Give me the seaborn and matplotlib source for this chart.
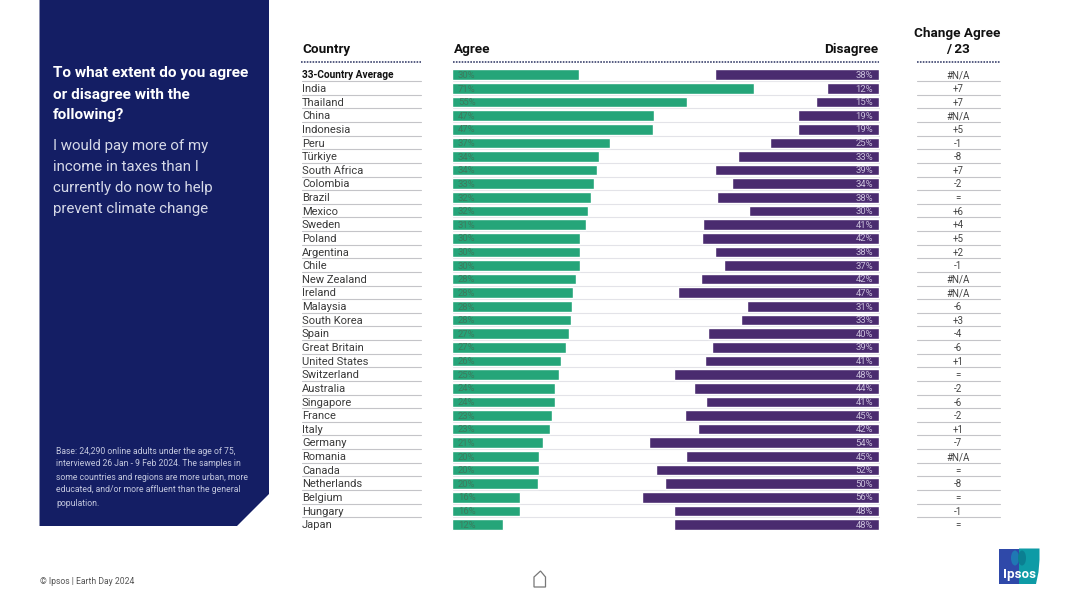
import matplotlib
matplotlib.use("Agg")
import matplotlib.pyplot as plt
import seaborn as sns
import pandas as pd
from matplotlib.patches import Polygon, Ellipse

countries = ["33-Country Average", "India", "Thailand", "China", "Indonesia", "Peru", "Türkiye",
             "South Africa", "Colombia", "Brazil", "Mexico", "Sweden", "Poland", "Argentina", "Chile",
             "New Zealand", "Ireland", "Malaysia", "South Korea", "Spain", "Great Britain",
             "United States", "Switzerland", "Australia", "Singapore", "France", "Italy", "Germany",
             "Romania", "Canada", "Netherlands", "Belgium", "Hungary", "Japan"]
agree_bar = [29.7, 70.8, 55.0, 47.3, 47.1, 37.0, 34.4, 33.9, 33.1, 32.5, 31.8, 31.4, 30.0, 29.9, 29.9,
             29.0, 28.3, 28.0, 27.8, 27.4, 26.6, 25.4, 25.0, 24.0, 24.0, 23.4, 22.9, 21.3, 20.4, 20.3,
             20.0, 15.8, 15.8, 11.9]
disagree_bar = [38.6, 12.3, 14.7, 19.1, 18.9, 25.5, 33.2, 38.6, 34.4, 38.1, 30.4, 41.4, 41.6, 38.4, 36.5,
                41.9, 47.1, 31.1, 32.5, 40.2, 39.3, 40.9, 48.2, 43.5, 40.7, 45.6, 42.6, 54.1, 45.4, 52.4,
                50.3, 55.7, 48.2, 48.2]
agree_labels = [30, 71, 55, 47, 47, 37, 34, 34, 33, 32, 32, 31, 30, 30, 30, 28, 28, 28, 28, 27, 27, 26,
                25, 24, 24, 23, 23, 21, 20, 20, 20, 16, 16, 12]
disagree_labels = [38, 12, 15, 19, 19, 25, 33, 39, 34, 38, 30, 41, 42, 38, 37, 42, 47, 31, 33, 40, 39, 41,
                   48, 44, 41, 45, 42, 54, 45, 52, 50, 56, 48, 48]
change = ["#N/A", "+7", "+7", "#N/A", "+5", "-1", "-8", "+7", "-2", "=", "+6", "+4", "+5", "+2", "-1",
          "#N/A", "#N/A", "-6", "+3", "-4", "-6", "+1", "=", "-2", "-6", "-2", "+1", "-7", "#N/A", "=",
          "-8", "=", "-1", "="]

sns.set_theme(style="white")
plt.rcParams["font.family"] = ["Roboto", "DejaVu Sans"]

W, H = 1080, 607
fig = plt.figure(figsize=(W / 100, H / 100), dpi=100, facecolor="white")

# full-page layer in pixel units
page = fig.add_axes([0, 0, 1, 1], zorder=0)
page.set_xlim(0, W); page.set_ylim(H, 0); page.axis("off")

NAVY = "#141E64"
page.add_patch(Polygon([(39.5, 0), (269, 0), (269, 494), (237, 526), (39.5, 526)], closed=True,
                       facecolor=NAVY, edgecolor="none"))
for y, s in zip([73.5, 94.5, 115.5], ["To what extent do you agree", "or disagree with the", "following?"]):
    page.text(53, y, s, color="white", fontsize=11.1, fontweight="bold", va="center")
for y, s in zip([146, 167, 188, 209.5], ["I would pay more of my", "income in taxes than I",
                                         "currently do now to help", "prevent climate change"]):
    page.text(53, y, s, color="#D6D9E8", fontsize=10.8, va="center")
base = ["Base: 24,290 online adults under the age of 75,",
        "interviewed 26 Jan - 9 Feb 2024. The samples in",
        "some countries and regions are more urban, more",
        "educated, and/or more affluent than the general",
        "population."]
for y, s in zip([451, 464, 477, 490, 503], base):
    page.text(56.5, y, s, color="#C3C7DE", fontsize=6.25, va="center")
page.text(39.5, 581, "© Ipsos | Earth Day 2024", color="#555555", fontsize=6.2, va="center")

# column headers
HEAD = dict(color="#111111", fontsize=9.7, fontweight="bold", va="center")
page.text(302, 50, "Country", **HEAD)
page.text(454, 50, "Agree", **HEAD)
page.text(878, 50, "Disagree", ha="right", **HEAD)
page.text(957.5, 34, "Change Agree", ha="center", **HEAD)
page.text(957.5, 50, "/ 23", ha="center", **HEAD)
for x0, x1 in [(301, 421), (452.5, 879), (917, 1000)]:
    page.plot([x0, x1], [61.8, 61.8], color="#4A5178", lw=1.3, ls=(0, (0.9, 0.7)))

# home icon
page.add_patch(Polygon([(534, 587), (534, 577), (540.5, 571), (545.5, 577), (545.5, 587)], closed=True,
                       facecolor="white", edgecolor="#777777", lw=0.9))

# logo
page.add_patch(Polygon([(999, 548.5), (1020, 548.5), (1020, 584), (999, 584)], closed=True,
                       facecolor="#2F49A9", edgecolor="none"))
page.add_patch(Polygon([(1019, 548.5), (1039.5, 548.5), (1039.5, 560), (1038.5, 572), (1036, 584), (1019, 584)],
                       closed=True, facecolor="#0E9BA6", edgecolor="none"))
page.add_patch(Ellipse((1015, 558), 8, 15, facecolor="#1F78B4", edgecolor="none"))
page.add_patch(Ellipse((1022, 558), 8, 15, facecolor="#0B7F92", edgecolor="none"))
page.text(1019, 574.5, "Ipsos", color="white", fontsize=9.6, fontweight="bold", ha="center", va="center")

# bar panels
top, bottom = 67.9, 531.3
left, right = 452.5, 879.0
rect = [left / W, 1 - bottom / H, (right - left) / W, (bottom - top) / H]
scale_max = (right - left) / 4.26

table = fig.add_axes([0, 1 - bottom / H, 1, (bottom - top) / H], zorder=1)
table.set_xlim(0, W); table.set_ylim(len(countries) - 0.5, -0.5); table.axis("off")

df = pd.DataFrame({"country": countries, "agree": agree_bar, "disagree": disagree_bar})

ax_a = fig.add_axes(rect, zorder=2)
sns.barplot(data=df, y="country", x="agree", color="#25A579", saturation=1, width=0.78, ax=ax_a)
ax_a.set_xlim(0, scale_max)

ax_d = fig.add_axes(rect, zorder=3)
sns.barplot(data=df, y="country", x="disagree", color="#4A2B6F", saturation=1, width=0.78, ax=ax_d)
ax_d.set_xlim(scale_max, 0)

for ax in (ax_a, ax_d):
    ax.set_ylim(len(countries) - 0.5, -0.5)
    ax.axis("off")
    ax.patch.set_alpha(0)

# table text, rules and value labels on top of bars
labels = fig.add_axes([0, 1 - bottom / H, 1, (bottom - top) / H], zorder=4)
labels.set_xlim(0, W); labels.set_ylim(len(countries) - 0.5, -0.5); labels.axis("off")
labels.patch.set_alpha(0)

for i, name in enumerate(countries):
    first = i == 0
    yt = i + 0.05
    labels.text(302, yt, name, color="#111111" if first else "#3A3A3A", fontsize=7.25 if first else 8.0,
                fontweight="bold" if first else "normal", va="center")
    labels.text(958, yt, change[i], color="#444444", fontsize=7.0, va="center", ha="center")
    labels.text(458, yt, f"{agree_labels[i]}%", color="#3E7A5E", fontsize=6.8, va="center")
    labels.text(873, yt, f"{disagree_labels[i]}%", color="#C9BFDA", fontsize=6.8, va="center", ha="right")
    if i < len(countries) - 1:
        table.plot([left, right], [i + 0.47, i + 0.47], color="#E3E3E8", lw=0.8)
        table.plot([302, 421], [i + 0.47, i + 0.47], color="#C4C4C8", lw=0.8)
        table.plot([917, 1000], [i + 0.47, i + 0.47], color="#C4C4C8", lw=0.8)

fig.savefig("out.png", dpi=100, facecolor="white")
